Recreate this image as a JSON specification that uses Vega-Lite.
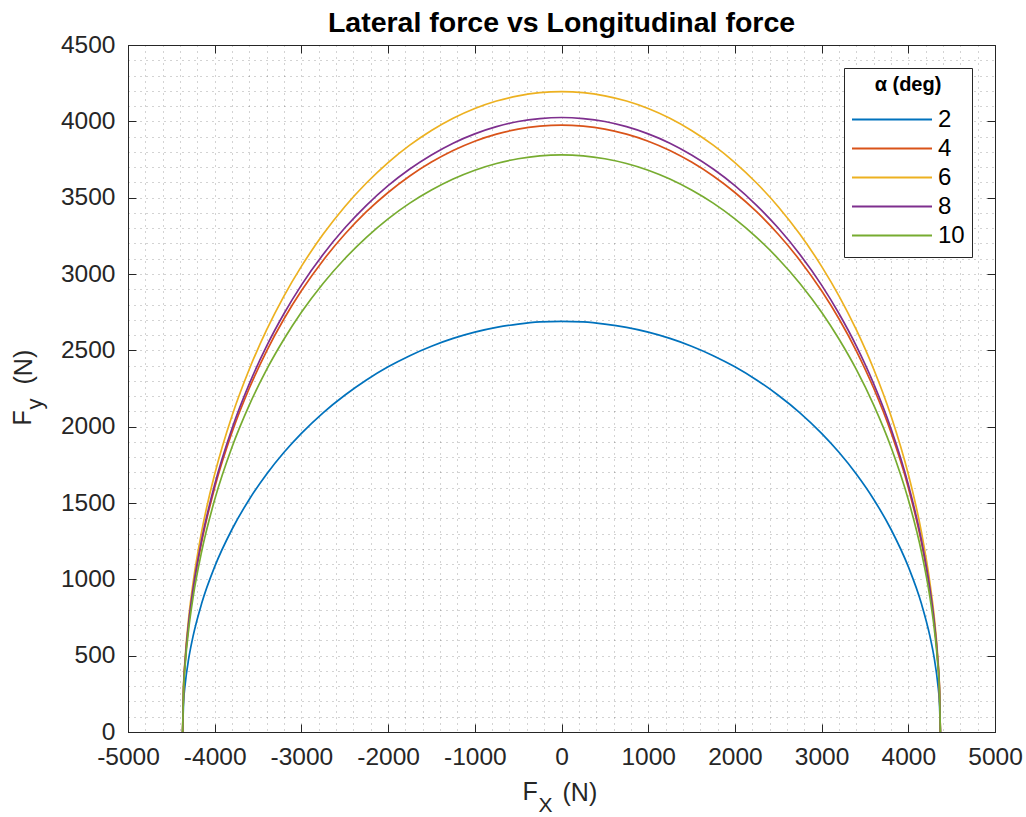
{
  "$schema": "https://vega.github.io/schema/vega-lite/v6.json",
  "width": 867,
  "height": 687,
  "autosize": {"type": "none"},
  "padding": {"left": 128, "top": 45, "right": 31, "bottom": 85},
  "background": "#ffffff",
  "title": {
    "text": "Lateral force vs Longitudinal force",
    "fontSize": 28.5,
    "fontWeight": "bold",
    "font": "Liberation Sans",
    "color": "#000000",
    "anchor": "middle",
    "frame": "group",
    "offset": -5
  },
  "data": {
    "values": [
      {"a": 2, "fx": -4370, "fy": 0}, {"a": 2, "fx": -4360, "fy": 182}, {"a": 2, "fx": -4340, "fy": 315}, {"a": 2, "fx": -4300, "fy": 480},
      {"a": 2, "fx": -4250, "fy": 626}, {"a": 2, "fx": -4150, "fy": 843}, {"a": 2, "fx": -4000, "fy": 1083}, {"a": 2, "fx": -3800, "fy": 1328},
      {"a": 2, "fx": -3600, "fy": 1525}, {"a": 2, "fx": -3400, "fy": 1690}, {"a": 2, "fx": -3200, "fy": 1832}, {"a": 2, "fx": -3000, "fy": 1956},
      {"a": 2, "fx": -2750, "fy": 2091}, {"a": 2, "fx": -2500, "fy": 2206}, {"a": 2, "fx": -2250, "fy": 2306}, {"a": 2, "fx": -2000, "fy": 2392},
      {"a": 2, "fx": -1750, "fy": 2465}, {"a": 2, "fx": -1500, "fy": 2527}, {"a": 2, "fx": -1250, "fy": 2578}, {"a": 2, "fx": -1000, "fy": 2619},
      {"a": 2, "fx": -750, "fy": 2650}, {"a": 2, "fx": -500, "fy": 2672}, {"a": 2, "fx": -250, "fy": 2686}, {"a": 2, "fx": 0, "fy": 2690},
      {"a": 2, "fx": 250, "fy": 2686}, {"a": 2, "fx": 500, "fy": 2672}, {"a": 2, "fx": 750, "fy": 2650}, {"a": 2, "fx": 1000, "fy": 2619},
      {"a": 2, "fx": 1250, "fy": 2578}, {"a": 2, "fx": 1500, "fy": 2527}, {"a": 2, "fx": 1750, "fy": 2465}, {"a": 2, "fx": 2000, "fy": 2392},
      {"a": 2, "fx": 2250, "fy": 2306}, {"a": 2, "fx": 2500, "fy": 2206}, {"a": 2, "fx": 2750, "fy": 2091}, {"a": 2, "fx": 3000, "fy": 1956},
      {"a": 2, "fx": 3200, "fy": 1832}, {"a": 2, "fx": 3400, "fy": 1690}, {"a": 2, "fx": 3600, "fy": 1525}, {"a": 2, "fx": 3800, "fy": 1328},
      {"a": 2, "fx": 4000, "fy": 1083}, {"a": 2, "fx": 4150, "fy": 843}, {"a": 2, "fx": 4250, "fy": 626}, {"a": 2, "fx": 4300, "fy": 480},
      {"a": 2, "fx": 4340, "fy": 315}, {"a": 2, "fx": 4360, "fy": 182}, {"a": 2, "fx": 4370, "fy": 0},

      {"a": 4, "fx": -4370, "fy": 0}, {"a": 4, "fx": -4360, "fy": 269}, {"a": 4, "fx": -4340, "fy": 465}, {"a": 4, "fx": -4300, "fy": 709},
      {"a": 4, "fx": -4250, "fy": 925}, {"a": 4, "fx": -4150, "fy": 1245}, {"a": 4, "fx": -4000, "fy": 1601}, {"a": 4, "fx": -3800, "fy": 1963},
      {"a": 4, "fx": -3600, "fy": 2253}, {"a": 4, "fx": -3400, "fy": 2497}, {"a": 4, "fx": -3200, "fy": 2707}, {"a": 4, "fx": -3000, "fy": 2890},
      {"a": 4, "fx": -2750, "fy": 3089}, {"a": 4, "fx": -2500, "fy": 3260}, {"a": 4, "fx": -2250, "fy": 3408}, {"a": 4, "fx": -2000, "fy": 3534},
      {"a": 4, "fx": -1750, "fy": 3642}, {"a": 4, "fx": -1500, "fy": 3733}, {"a": 4, "fx": -1250, "fy": 3809}, {"a": 4, "fx": -1000, "fy": 3870},
      {"a": 4, "fx": -750, "fy": 3916}, {"a": 4, "fx": -500, "fy": 3949}, {"a": 4, "fx": -250, "fy": 3968}, {"a": 4, "fx": 0, "fy": 3975},
      {"a": 4, "fx": 250, "fy": 3968}, {"a": 4, "fx": 500, "fy": 3949}, {"a": 4, "fx": 750, "fy": 3916}, {"a": 4, "fx": 1000, "fy": 3870},
      {"a": 4, "fx": 1250, "fy": 3809}, {"a": 4, "fx": 1500, "fy": 3733}, {"a": 4, "fx": 1750, "fy": 3642}, {"a": 4, "fx": 2000, "fy": 3534},
      {"a": 4, "fx": 2250, "fy": 3408}, {"a": 4, "fx": 2500, "fy": 3260}, {"a": 4, "fx": 2750, "fy": 3089}, {"a": 4, "fx": 3000, "fy": 2890},
      {"a": 4, "fx": 3200, "fy": 2707}, {"a": 4, "fx": 3400, "fy": 2497}, {"a": 4, "fx": 3600, "fy": 2253}, {"a": 4, "fx": 3800, "fy": 1963},
      {"a": 4, "fx": 4000, "fy": 1601}, {"a": 4, "fx": 4150, "fy": 1245}, {"a": 4, "fx": 4250, "fy": 925}, {"a": 4, "fx": 4300, "fy": 709},
      {"a": 4, "fx": 4340, "fy": 465}, {"a": 4, "fx": 4360, "fy": 269}, {"a": 4, "fx": 4370, "fy": 0},

      {"a": 6, "fx": -4370, "fy": 0}, {"a": 6, "fx": -4360, "fy": 284}, {"a": 6, "fx": -4340, "fy": 491}, {"a": 6, "fx": -4300, "fy": 748},
      {"a": 6, "fx": -4250, "fy": 976}, {"a": 6, "fx": -4150, "fy": 1314}, {"a": 6, "fx": -4000, "fy": 1689}, {"a": 6, "fx": -3800, "fy": 2072},
      {"a": 6, "fx": -3600, "fy": 2378}, {"a": 6, "fx": -3400, "fy": 2635}, {"a": 6, "fx": -3200, "fy": 2857}, {"a": 6, "fx": -3000, "fy": 3050},
      {"a": 6, "fx": -2750, "fy": 3260}, {"a": 6, "fx": -2500, "fy": 3441}, {"a": 6, "fx": -2250, "fy": 3596}, {"a": 6, "fx": -2000, "fy": 3730},
      {"a": 6, "fx": -1750, "fy": 3844}, {"a": 6, "fx": -1500, "fy": 3940}, {"a": 6, "fx": -1250, "fy": 4020}, {"a": 6, "fx": -1000, "fy": 4084},
      {"a": 6, "fx": -750, "fy": 4133}, {"a": 6, "fx": -500, "fy": 4167}, {"a": 6, "fx": -250, "fy": 4188}, {"a": 6, "fx": 0, "fy": 4195},
      {"a": 6, "fx": 250, "fy": 4188}, {"a": 6, "fx": 500, "fy": 4167}, {"a": 6, "fx": 750, "fy": 4133}, {"a": 6, "fx": 1000, "fy": 4084},
      {"a": 6, "fx": 1250, "fy": 4020}, {"a": 6, "fx": 1500, "fy": 3940}, {"a": 6, "fx": 1750, "fy": 3844}, {"a": 6, "fx": 2000, "fy": 3730},
      {"a": 6, "fx": 2250, "fy": 3596}, {"a": 6, "fx": 2500, "fy": 3441}, {"a": 6, "fx": 2750, "fy": 3260}, {"a": 6, "fx": 3000, "fy": 3050},
      {"a": 6, "fx": 3200, "fy": 2857}, {"a": 6, "fx": 3400, "fy": 2635}, {"a": 6, "fx": 3600, "fy": 2378}, {"a": 6, "fx": 3800, "fy": 2072},
      {"a": 6, "fx": 4000, "fy": 1689}, {"a": 6, "fx": 4150, "fy": 1314}, {"a": 6, "fx": 4250, "fy": 976}, {"a": 6, "fx": 4300, "fy": 748},
      {"a": 6, "fx": 4340, "fy": 491}, {"a": 6, "fx": 4360, "fy": 284}, {"a": 6, "fx": 4370, "fy": 0},

      {"a": 8, "fx": -4370, "fy": 0}, {"a": 8, "fx": -4360, "fy": 272}, {"a": 8, "fx": -4340, "fy": 471}, {"a": 8, "fx": -4300, "fy": 718},
      {"a": 8, "fx": -4250, "fy": 937}, {"a": 8, "fx": -4150, "fy": 1261}, {"a": 8, "fx": -4000, "fy": 1621}, {"a": 8, "fx": -3800, "fy": 1988},
      {"a": 8, "fx": -3600, "fy": 2282}, {"a": 8, "fx": -3400, "fy": 2529}, {"a": 8, "fx": -3200, "fy": 2741}, {"a": 8, "fx": -3000, "fy": 2927},
      {"a": 8, "fx": -2750, "fy": 3128}, {"a": 8, "fx": -2500, "fy": 3301}, {"a": 8, "fx": -2250, "fy": 3450}, {"a": 8, "fx": -2000, "fy": 3579},
      {"a": 8, "fx": -1750, "fy": 3688}, {"a": 8, "fx": -1500, "fy": 3780}, {"a": 8, "fx": -1250, "fy": 3857}, {"a": 8, "fx": -1000, "fy": 3918},
      {"a": 8, "fx": -750, "fy": 3965}, {"a": 8, "fx": -500, "fy": 3999}, {"a": 8, "fx": -250, "fy": 4018}, {"a": 8, "fx": 0, "fy": 4025},
      {"a": 8, "fx": 250, "fy": 4018}, {"a": 8, "fx": 500, "fy": 3999}, {"a": 8, "fx": 750, "fy": 3965}, {"a": 8, "fx": 1000, "fy": 3918},
      {"a": 8, "fx": 1250, "fy": 3857}, {"a": 8, "fx": 1500, "fy": 3780}, {"a": 8, "fx": 1750, "fy": 3688}, {"a": 8, "fx": 2000, "fy": 3579},
      {"a": 8, "fx": 2250, "fy": 3450}, {"a": 8, "fx": 2500, "fy": 3301}, {"a": 8, "fx": 2750, "fy": 3128}, {"a": 8, "fx": 3000, "fy": 2927},
      {"a": 8, "fx": 3200, "fy": 2741}, {"a": 8, "fx": 3400, "fy": 2529}, {"a": 8, "fx": 3600, "fy": 2282}, {"a": 8, "fx": 3800, "fy": 1988},
      {"a": 8, "fx": 4000, "fy": 1621}, {"a": 8, "fx": 4150, "fy": 1261}, {"a": 8, "fx": 4250, "fy": 937}, {"a": 8, "fx": 4300, "fy": 718},
      {"a": 8, "fx": 4340, "fy": 471}, {"a": 8, "fx": 4360, "fy": 272}, {"a": 8, "fx": 4370, "fy": 0},

      {"a": 10, "fx": -4370, "fy": 0}, {"a": 10, "fx": -4360, "fy": 256}, {"a": 10, "fx": -4340, "fy": 442}, {"a": 10, "fx": -4300, "fy": 674},
      {"a": 10, "fx": -4250, "fy": 880}, {"a": 10, "fx": -4150, "fy": 1184}, {"a": 10, "fx": -4000, "fy": 1522}, {"a": 10, "fx": -3800, "fy": 1867},
      {"a": 10, "fx": -3600, "fy": 2143}, {"a": 10, "fx": -3400, "fy": 2375}, {"a": 10, "fx": -3200, "fy": 2574}, {"a": 10, "fx": -3000, "fy": 2749},
      {"a": 10, "fx": -2750, "fy": 2938}, {"a": 10, "fx": -2500, "fy": 3100}, {"a": 10, "fx": -2250, "fy": 3240}, {"a": 10, "fx": -2000, "fy": 3361},
      {"a": 10, "fx": -1750, "fy": 3464}, {"a": 10, "fx": -1500, "fy": 3550}, {"a": 10, "fx": -1250, "fy": 3622}, {"a": 10, "fx": -1000, "fy": 3680},
      {"a": 10, "fx": -750, "fy": 3724}, {"a": 10, "fx": -500, "fy": 3755}, {"a": 10, "fx": -250, "fy": 3774}, {"a": 10, "fx": 0, "fy": 3780},
      {"a": 10, "fx": 250, "fy": 3774}, {"a": 10, "fx": 500, "fy": 3755}, {"a": 10, "fx": 750, "fy": 3724}, {"a": 10, "fx": 1000, "fy": 3680},
      {"a": 10, "fx": 1250, "fy": 3622}, {"a": 10, "fx": 1500, "fy": 3550}, {"a": 10, "fx": 1750, "fy": 3464}, {"a": 10, "fx": 2000, "fy": 3361},
      {"a": 10, "fx": 2250, "fy": 3240}, {"a": 10, "fx": 2500, "fy": 3100}, {"a": 10, "fx": 2750, "fy": 2938}, {"a": 10, "fx": 3000, "fy": 2749},
      {"a": 10, "fx": 3200, "fy": 2574}, {"a": 10, "fx": 3400, "fy": 2375}, {"a": 10, "fx": 3600, "fy": 2143}, {"a": 10, "fx": 3800, "fy": 1867},
      {"a": 10, "fx": 4000, "fy": 1522}, {"a": 10, "fx": 4150, "fy": 1184}, {"a": 10, "fx": 4250, "fy": 880}, {"a": 10, "fx": 4300, "fy": 674},
      {"a": 10, "fx": 4340, "fy": 442}, {"a": 10, "fx": 4360, "fy": 256}, {"a": 10, "fx": 4370, "fy": 0}
    ]
  },
  "layer": [
    {
      "mark": {"type": "line", "strokeWidth": 1.7, "interpolate": "monotone"},
      "encoding": {
        "x": {
          "field": "fx", "type": "quantitative",
          "scale": {"domain": [-5000, 5000], "nice": false, "zero": false},
          "axis": {
            "title": null,
            "values": [-5000,-4800,-4600,-4400,-4200,-4000,-3800,-3600,-3400,-3200,-3000,-2800,-2600,-2400,-2200,-2000,-1800,-1600,-1400,-1200,-1000,-800,-600,-400,-200,0,200,400,600,800,1000,1200,1400,1600,1800,2000,2200,2400,2600,2800,3000,3200,3400,3600,3800,4000,4200,4400,4600,4800,5000],
            "labelExpr": "datum.value % 1000 === 0 ? '' + datum.value : ''",
            "tickOpacity": {"condition": {"test": "datum.value % 1000 === 0", "value": 1}, "value": 0}
          }
        },
        "y": {
          "field": "fy", "type": "quantitative",
          "scale": {"domain": [0, 4500], "nice": false, "zero": false},
          "axis": {
            "title": null,
            "values": [0,100,200,300,400,500,600,700,800,900,1000,1100,1200,1300,1400,1500,1600,1700,1800,1900,2000,2100,2200,2300,2400,2500,2600,2700,2800,2900,3000,3100,3200,3300,3400,3500,3600,3700,3800,3900,4000,4100,4200,4300,4400,4500],
            "labelExpr": "datum.value % 500 === 0 ? '' + datum.value : ''",
            "tickOpacity": {"condition": {"test": "datum.value % 500 === 0", "value": 1}, "value": 0}
          }
        },
        "color": {
          "field": "a", "type": "ordinal",
          "scale": {"domain": [2, 4, 6, 8, 10], "range": ["#0072BD", "#D95319", "#EDB120", "#7E2F8E", "#77AC30"]},
          "legend": {
            "title": "α (deg)",
            "orient": "none",
            "legendX": 716,
            "legendY": 23,
            "fillColor": "#ffffff",
            "strokeColor": "#262626",
            "padding": 7,
            "symbolType": "stroke",
            "symbolSize": 6400,
            "symbolStrokeWidth": 1.8,
            "clipHeight": 29,
            "rowPadding": 0,
            "labelFont": "Liberation Sans",
            "labelFontSize": 24,
            "labelColor": "#000000",
            "labelOffset": 5,
            "titleFont": "Liberation Sans",
            "titleFontSize": 20,
            "titleFontWeight": "bold",
            "titleColor": "#000000",
            "titleAnchor": "middle",
            "titlePadding": 10
          }
        }
      }
    },
    {
      "data": {"values": [{}]},
      "mark": {"type": "point", "opacity": 0},
      "encoding": {
        "x": {
          "datum": 0, "type": "quantitative",
          "scale": {"domain": [-5000, 5000], "nice": false, "zero": false},
          "axis": {"orient": "top", "title": null, "labels": false, "grid": false, "domain": false,
                   "values": [-5000,-4000,-3000,-2000,-1000,0,1000,2000,3000,4000,5000]}
        },
        "y": {
          "datum": 0, "type": "quantitative",
          "scale": {"domain": [0, 4500], "nice": false, "zero": false},
          "axis": {"orient": "right", "title": null, "labels": false, "grid": false, "domain": false,
                   "values": [0,500,1000,1500,2000,2500,3000,3500,4000,4500]}
        }
      }
    },
    {
      "data": {"values": [{}]},
      "mark": {"type": "text", "text": "F", "align": "left", "baseline": "alphabetic", "dx": -39, "dy": 68, "fontSize": 25, "color": "#262626"},
      "encoding": {
        "x": {"datum": 0, "type": "quantitative", "scale": {"domain": [-5000, 5000], "nice": false, "zero": false}, "axis": null},
        "y": {"datum": 0, "type": "quantitative", "scale": {"domain": [0, 4500], "nice": false, "zero": false}, "axis": null}
      }
    },
    {
      "data": {"values": [{}]},
      "mark": {"type": "text", "text": "X", "align": "left", "baseline": "alphabetic", "dx": -23, "dy": 80, "fontSize": 21, "color": "#262626"},
      "encoding": {
        "x": {"datum": 0, "type": "quantitative", "scale": {"domain": [-5000, 5000], "nice": false, "zero": false}, "axis": null},
        "y": {"datum": 0, "type": "quantitative", "scale": {"domain": [0, 4500], "nice": false, "zero": false}, "axis": null}
      }
    },
    {
      "data": {"values": [{}]},
      "mark": {"type": "text", "text": "(N)", "align": "left", "baseline": "alphabetic", "dx": 1, "dy": 69, "fontSize": 25, "color": "#262626"},
      "encoding": {
        "x": {"datum": 0, "type": "quantitative", "scale": {"domain": [-5000, 5000], "nice": false, "zero": false}, "axis": null},
        "y": {"datum": 0, "type": "quantitative", "scale": {"domain": [0, 4500], "nice": false, "zero": false}, "axis": null}
      }
    },
    {
      "data": {"values": [{}]},
      "mark": {"type": "text", "text": "F", "align": "left", "baseline": "alphabetic", "angle": 270, "dx": -37, "dy": -97, "fontSize": 25, "color": "#262626"},
      "encoding": {
        "x": {"datum": -5000, "type": "quantitative", "scale": {"domain": [-5000, 5000], "nice": false, "zero": false}, "axis": null},
        "y": {"datum": 2250, "type": "quantitative", "scale": {"domain": [0, 4500], "nice": false, "zero": false}, "axis": null}
      }
    },
    {
      "data": {"values": [{}]},
      "mark": {"type": "text", "text": "y", "align": "left", "baseline": "alphabetic", "angle": 270, "dx": -21, "dy": -86, "fontSize": 22, "color": "#262626"},
      "encoding": {
        "x": {"datum": -5000, "type": "quantitative", "scale": {"domain": [-5000, 5000], "nice": false, "zero": false}, "axis": null},
        "y": {"datum": 2250, "type": "quantitative", "scale": {"domain": [0, 4500], "nice": false, "zero": false}, "axis": null}
      }
    },
    {
      "data": {"values": [{}]},
      "mark": {"type": "text", "text": "(N)", "align": "left", "baseline": "alphabetic", "angle": 270, "dx": 4, "dy": -96, "fontSize": 25, "color": "#262626"},
      "encoding": {
        "x": {"datum": -5000, "type": "quantitative", "scale": {"domain": [-5000, 5000], "nice": false, "zero": false}, "axis": null},
        "y": {"datum": 2250, "type": "quantitative", "scale": {"domain": [0, 4500], "nice": false, "zero": false}, "axis": null}
      }
    }
  ],
  "resolve": {"axis": {"x": "independent", "y": "independent"}},
  "config": {
    "font": "Liberation Sans",
    "view": {"stroke": "#262626", "strokeWidth": 1},
    "axis": {
      "labelFont": "Liberation Sans",
      "labelFontSize": 24.5,
      "labelColor": "#262626",
      "labelPadding": 21,
      "labelOverlap": false,
      "labelFlush": false,
      "labelBound": false,
      "domainColor": "#262626",
      "domainWidth": 1,
      "tickColor": "#262626",
      "tickWidth": 1,
      "tickSize": -8,
      "grid": true,
      "gridColor": "#262626",
      "gridOpacity": 0.4,
      "gridDash": [1, 5],
      "gridWidth": 1
    }
  }
}
